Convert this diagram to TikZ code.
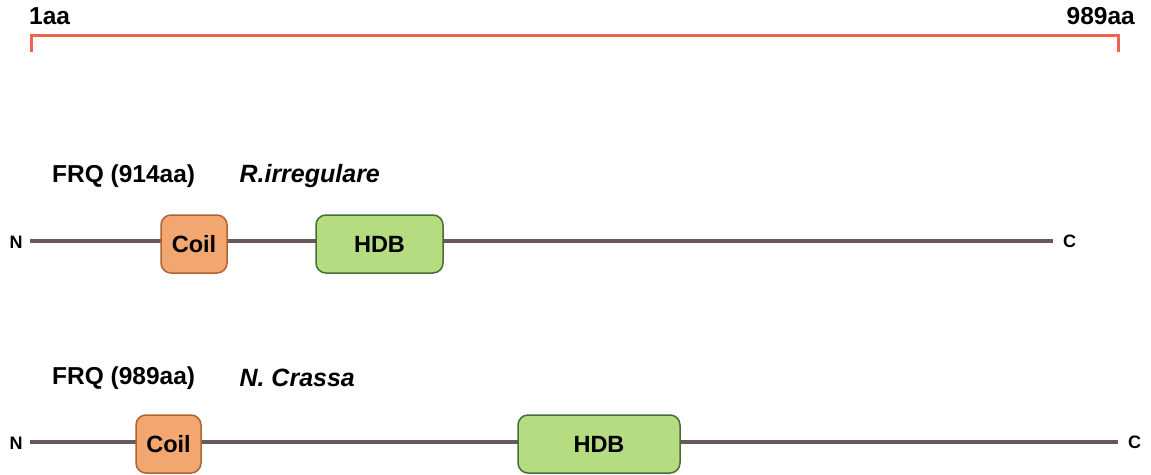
\documentclass[tikz,border=0pt]{standalone}
\usepackage{fontspec}
\setmainfont{Liberation Sans}
\usetikzlibrary{positioning}

\definecolor{scalered}{RGB}{238,100,80}
\definecolor{backbone}{RGB}{104,88,92}
\definecolor{coilfill}{RGB}{242,166,112}
\definecolor{coildraw}{RGB}{176,98,48}
\definecolor{hdbfill}{RGB}{182,220,130}
\definecolor{hdbdraw}{RGB}{70,110,50}

\begin{document}
\begin{tikzpicture}[
    x=1pt, y=-1pt,
    domainbox/.style={draw, rounded corners=10pt, line width=1.5pt, minimum height=58pt,
      inner sep=0pt, font=\fontsize{23.5}{26}\selectfont\bfseries},
    coil/.style={domainbox, fill=coilfill, draw=coildraw},
    hdb/.style={domainbox, fill=hdbfill, draw=hdbdraw},
    term/.style={font=\fontsize{18}{20}\selectfont\bfseries, inner sep=0pt},
    protein/.style={font=\fontsize{24.5}{27}\selectfont\bfseries, anchor=west, inner sep=0pt},
    species/.style={font=\fontsize{25}{27}\selectfont\bfseries\itshape, inner sep=0pt},
    chain/.style={draw=backbone, line width=4pt},
  ]
    \useasboundingbox (0,0) rectangle (1151,474);

    % Length scale
    \coordinate (s1) at (31,52);
    \coordinate (s2) at (1118,52);
    \draw[scalered, line width=3pt] (s1) -- ++(0,-17) -| (s2);
    \node[protein] (aa1) at (29,16) {1aa};
    \node[protein, anchor=east] (aa989) at (1135,16) {989aa};

    % R. irregulare
    \node[protein] (frq1) at (52,176) {FRQ (914aa)};
    \node[species, right=44pt of frq1] (sp1) {R.irregulare};
    \node[term] (n1) at (16,242) {N};
    \node[term, anchor=west] (c1) at (1063,241) {C};
    \draw[chain] ([xshift=7pt]n1.east |- 0,241) -- ([xshift=-10pt]c1.west);
    \node[coil, minimum width=66pt] (coil1) at (194,244) {Coil};
    \node[hdb, minimum width=127pt] (hdb1) at (379.5,244) {HDB};

    % N. crassa
    \node[protein] (frq2) at (52,378) {FRQ (989aa)};
    \node[species, right=44pt of frq2] (sp2) {N. Crassa};
    \node[term] (n2) at (16,443) {N};
    \node[term, anchor=west] (c2) at (1128,442) {C};
    \draw[chain] ([xshift=7pt]n2.east |- 0,442) -- ([xshift=-10pt]c2.west);
    \node[coil, minimum width=65pt] (coil2) at (168.5,444) {Coil};
    \node[hdb, minimum width=162pt] (hdb2) at (599,444) {HDB};

  \end{tikzpicture}
\end{document}
